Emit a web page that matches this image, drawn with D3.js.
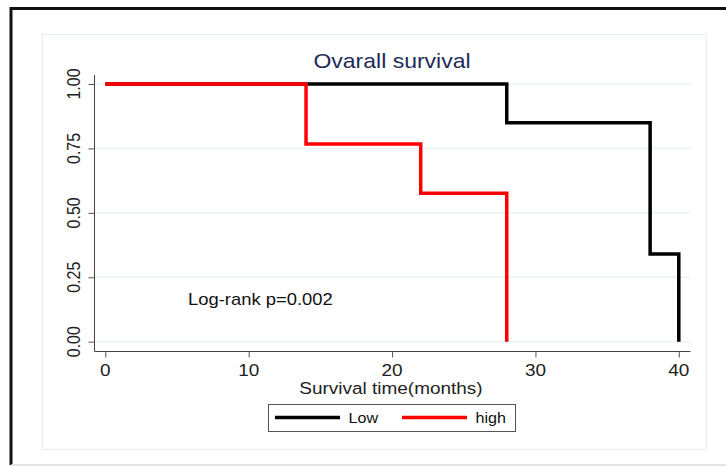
<!DOCTYPE html>
<html>
<head>
<meta charset="utf-8">
<script src="https://cdn.jsdelivr.net/npm/d3@7"></script>
<style>
body { margin: 0; background: #fff; }
text { font-family: "Liberation Sans", Arial, sans-serif; }
</style>
</head>
<body>
<div id="chart"></div>
<script>
// survival curves (Kaplan-Meier steps)
var lowTimes  = [0, 28, 38, 40];
var lowSurv   = [1, 0.85, 0.34, 0];
var highTimes = [0, 14, 22, 28];
var highSurv  = [1, 0.767, 0.576, 0];
var xTicks = [0, 10, 20, 30, 40];
var yTicks = [0, 0.25, 0.5, 0.75, 1];
var seriesNames = ["Low", "high"];
var seriesColors = ["#000000", "#ff0000"];

var width = 726, height = 466;
var sx = 1.15; // text in the picture is a bit wide

var svg = d3.select("#chart").append("svg").attr("width", width).attr("height", height);

// outer frame
svg.append("line").attr("x1", 11).attr("x2", width).attr("y1", 8.5).attr("y2", 8.5).attr("stroke", "#111").attr("stroke-width", 3);
svg.append("line").attr("x1", 11).attr("x2", 11).attr("y1", 7).attr("y2", 465).attr("stroke", "#111").attr("stroke-width", 3);
svg.append("line").attr("x1", 11).attr("x2", width).attr("y1", 465).attr("y2", 465).attr("stroke", "#dcdcdc").attr("stroke-width", 1.5);

// inner plot region
svg.append("rect").attr("x", 42.5).attr("y", 34.5).attr("width", 664).attr("height", 415)
  .attr("fill", "#fff").attr("stroke", "#e6eff0").attr("stroke-width", 1);

var x = d3.scaleLinear().domain([0, 40]).range([105.3, 678.8]);
var y = d3.scaleLinear().domain([0, 1]).range([341.7, 84]);
var axX0 = 94.5, axX1 = 690.5, axY = 351.5, axYTop = 75;

function stext(g, str, px, py, size, anchor, rot) {
  return g.append("text")
    .attr("transform", "translate(" + px + "," + py + ") scale(" + sx + ",1)" + (rot ? " rotate(" + rot + ")" : ""))
    .attr("text-anchor", anchor)
    .attr("font-size", size)
    .text(str);
}

// grid
svg.append("g").selectAll("line").data(yTicks).join("line")
  .attr("x1", axX0).attr("x2", axX1)
  .attr("y1", function(d){ return y(d); }).attr("y2", function(d){ return y(d); })
  .attr("stroke", "#eaf2f3").attr("stroke-width", 1.5);

// axes
var ya = svg.append("g").attr("transform", "translate(" + axX0 + ",0)")
  .call(d3.axisLeft(y).tickValues(yTicks).tickSize(6).tickFormat(""));
ya.select(".domain").remove();
ya.selectAll(".tick line").attr("stroke", "#555");
var xa = svg.append("g").attr("transform", "translate(0," + axY + ")")
  .call(d3.axisBottom(x).tickValues(xTicks).tickSize(6).tickFormat(""));
xa.select(".domain").remove();
xa.selectAll(".tick line").attr("stroke", "#555");
svg.append("line").attr("x1", axX0).attr("x2", axX0).attr("y1", axYTop).attr("y2", axY).attr("stroke", "#444").attr("stroke-width", 1);
svg.append("line").attr("x1", axX0).attr("x2", axX1).attr("y1", axY).attr("y2", axY).attr("stroke", "#444").attr("stroke-width", 1);

yTicks.forEach(function(d) {
  stext(svg, d3.format(".2f")(d), 80, y(d), 16, "middle", -90).attr("fill", "#222");
});
xTicks.forEach(function(d) {
  stext(svg, d, x(d), 375.5, 16.5, "middle").attr("fill", "#222");
});

// curves
var line = d3.line().curve(d3.curveStepAfter)
  .x(function(d){ return x(d[0]); })
  .y(function(d){ return y(d[1]); });
var series = [d3.zip(lowTimes, lowSurv), d3.zip(highTimes, highSurv)];
svg.append("g").selectAll("path").data(series).join("path")
  .attr("d", line)
  .attr("fill", "none")
  .attr("stroke", function(d, i){ return seriesColors[i]; })
  .attr("stroke-width", 3.5)
  .attr("stroke-linejoin", "miter");

// texts
stext(svg, "Ovarall survival", 392, 68, 20, "middle").attr("fill", "#1e2b58");
stext(svg, "Log-rank p=0.002", 188, 305, 16, "start").attr("fill", "#111");
stext(svg, "Survival time(months)", 391, 394, 16.5, "middle").attr("fill", "#222");

// legend
var lg = svg.append("g");
lg.append("rect").attr("x", 268.5).attr("y", 404.5).attr("width", 247).attr("height", 27)
  .attr("fill", "#fff").attr("stroke", "#555").attr("stroke-width", 1);
var legX = [275, 402];
seriesNames.forEach(function(n, i) {
  lg.append("line").attr("x1", legX[i]).attr("x2", legX[i] + 65).attr("y1", 417.5).attr("y2", 417.5)
    .attr("stroke", seriesColors[i]).attr("stroke-width", 3.5);
  stext(lg, n, legX[i] + 73.5, 423, 14, "start").attr("fill", "#111");
});
</script>
</body>
</html>
